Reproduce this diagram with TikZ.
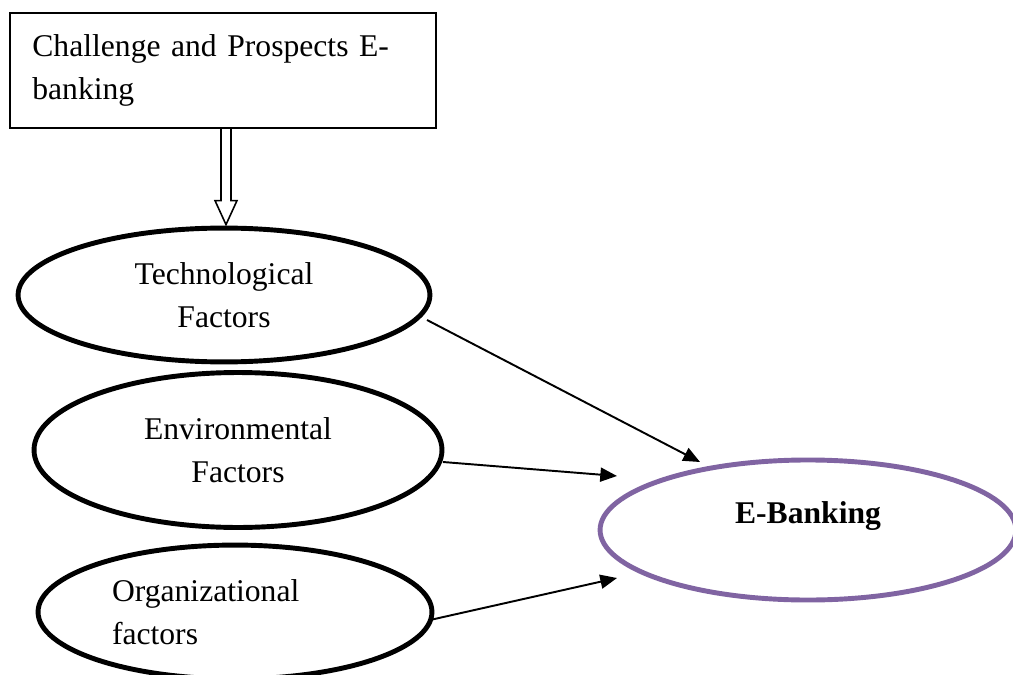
\documentclass[tikz,border=0pt]{standalone}
\usepackage{fontspec}
\setmainfont{Liberation Serif}
\usetikzlibrary{arrows.meta,positioning,calc,shapes.geometric}
\definecolor{ebpurple}{HTML}{8064A2}
\tikzset{
  topbox/.style={draw,line width=1.2pt,minimum width=242.4pt,minimum height=65.4pt,inner sep=0pt,text width=217pt,align=left},
  factor/.style={draw,ellipse,line width=2.8pt,inner sep=0pt,align=center},
  target/.style={draw=ebpurple,ellipse,line width=2.8pt,inner sep=0pt,font=\fontsize{18pt}{24.5pt}\selectfont\bfseries,text height=12.6pt,text depth=20.4pt},
  arr/.style={-{Triangle[length=9.5pt,width=8pt]},line width=1.1pt},
  dbl/.style={draw,fill=white,line width=0.9pt},
}

\begin{document}
\begin{tikzpicture}[x=0.02cm,y=-0.02cm,font=\fontsize{18pt}{24.5pt}\selectfont]
\useasboundingbox (0,0) rectangle (1013,675);
\node[topbox] (box) at (223,70.5) {Challenge and Prospects E-\\banking};
\node[factor,minimum width=234.4pt,minimum height=76.2pt] (tech) at (224,295) {Technological\\Factors};
\node[factor,minimum width=232.2pt,minimum height=88.2pt] (env) at (238,450) {Environmental\\Factors};
\node[factor,minimum width=224.2pt,minimum height=76.2pt,text width=140pt,align=left] (org) at (235,612) {Organizational\\factors};
\node[target,minimum width=236.7pt,minimum height=79.7pt] (eb) at (808,530) {E-Banking};
% hollow arrow into the first factor
\draw[dbl] ($(box.south -| tech.north)+(-3,0)$) -- ($(tech.north)+(-3,-25)$) -- ($(tech.north)+(-9,-25)$) -- ($(tech.north)+(2,-1)$) -- ($(tech.north)+(13,-25)$) -- ($(tech.north)+(7,-25)$) -- ($(box.south -| tech.north)+(7,0)$);
\draw[arr] ($(tech.center)+(203,25)$) -- ($(eb.center)+(-108,-68)$);
\draw[arr] ($(env.center)+(205,12)$) -- ($(eb.center)+(-191,-54)$);
\draw[arr] ($(org.center)+(195,8)$) -- ($(eb.center)+(-191,48)$);
\end{tikzpicture}
\end{document}
